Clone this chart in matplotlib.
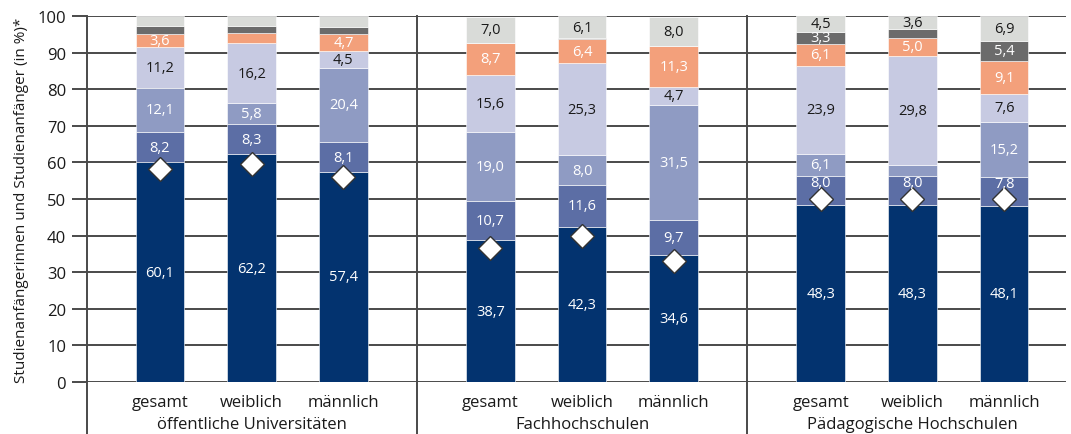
import numpy as np
import matplotlib
matplotlib.use("Agg")
import matplotlib.pyplot as plt
from matplotlib.lines import Line2D

plt.rcParams['font.family'] = ['Open Sans', 'DejaVu Sans']

groups = ["öffentliche Universitäten", "Fachhochschulen", "Pädagogische Hochschulen"]
subcats = ["gesamt", "weiblich", "männlich"]

# stacked shares, bottom to top, 9 bars (3 groups x gesamt/weiblich/männlich)
layer1 = [60.1, 62.2, 57.4, 38.7, 42.3, 34.6, 48.3, 48.3, 48.1]
layer2 = [8.2, 8.3, 8.1, 10.7, 11.6, 9.7, 8.0, 8.0, 7.8]
layer3 = [12.1, 5.8, 20.4, 19.0, 8.0, 31.5, 6.1, 3.0, 15.2]
layer4 = [11.2, 16.2, 4.5, 15.6, 25.3, 4.7, 23.9, 29.8, 7.6]
layer5 = [3.6, 2.8, 4.7, 8.7, 6.4, 11.3, 6.1, 5.0, 9.1]
layer6 = [2.0, 2.0, 2.0, 0.0, 0.3, 0.0, 3.3, 2.3, 5.4]
layer7 = [2.8, 2.7, 2.9, 7.0, 6.1, 8.0, 4.5, 3.6, 6.9]
# segments drawn without a value label: (layer index, bar index)
unlabelled = {(2, 7), (4, 1), (5, 0), (5, 1), (5, 2), (5, 3), (5, 4), (5, 5), (5, 7),
              (6, 0), (6, 1), (6, 2)}
# diamond markers
diamonds = [58.2, 59.6, 56.0, 36.6, 39.9, 33.1, 50.0, 50.0, 50.0]

layers = [layer1, layer2, layer3, layer4, layer5, layer6, layer7]
colors = ["#03336f", "#5c6ea5", "#8f9bc3", "#c7cae2", "#f3a07b", "#6b6b6b", "#d9dbd8"]
txtcol = ["white", "white", "white", "#1a1a1a", "white", "white", "#1a1a1a"]

gap = 1.603
xpos = np.array([g * (2 + gap) + i for g in range(3) for i in range(3)], dtype=float)
seps = [xpos[2] + (xpos[3] - xpos[2]) / 2, xpos[5] + (xpos[6] - xpos[5]) / 2]

fig = plt.figure(figsize=(10.71, 4.35), dpi=100)
ax = fig.add_axes([87 / 1071, 1 - 383 / 435, (1066 - 87) / 1071, (383 - 17) / 435])

ax.set_ylim(0, 100)
ax.set_xlim(-0.796, 9.88)
ax.set_yticks(np.arange(0, 101, 10))
ax.yaxis.grid(True, color="#4a4a4a", linewidth=1.4)
ax.set_axisbelow(True)
for s in ["top", "right", "bottom", "left"]:
    ax.spines[s].set_visible(False)
ax.tick_params(axis="y", length=11, width=1.4, color="#4a4a4a", labelsize=12,
               labelcolor="#1a1a1a", pad=4)
ax.set_xticks([])

bw = 0.53
bottom = np.zeros(len(xpos))
for li, (vals, c) in enumerate(zip(layers, colors)):
    vals = np.array(vals)
    ax.bar(xpos, vals, bw, bottom=bottom, color=c, edgecolor="white", linewidth=0.4, zorder=2)
    for bi, v in enumerate(vals):
        if v <= 0 or (li, bi) in unlabelled:
            continue
        yy = bottom[bi] + v / 2
        # PH labels of the second layer sit above the diamond
        if li == 1 and bi >= 6:
            yy += 2.3
        ax.text(xpos[bi], yy, f"{v:.1f}".replace(".", ","),
                ha="center", va="center", fontsize=10.5, color=txtcol[li], zorder=6)
    bottom += vals

ax.plot(xpos, diamonds, linestyle="none", marker="D", markersize=12,
        markerfacecolor="white", markeredgecolor="#333333", markeredgewidth=1.0, zorder=5)

# y axis line and group separators reaching into the label area
trans = ax.get_xaxis_transform()
for x in [ax.get_xlim()[0]] + seps:
    ax.add_line(Line2D([x, x], [-0.15, 1.0], transform=trans, color="#4a4a4a",
                       linewidth=1.4, clip_on=False, zorder=3))

for i, x in enumerate(xpos):
    ax.text(x, -0.055, subcats[i % 3], transform=trans, ha="center", va="center",
            fontsize=12, color="#1a1a1a")
for g in range(3):
    ax.text(xpos[3 * g + 1], -0.115, groups[g], transform=trans, ha="center", va="center",
            fontsize=12, color="#1a1a1a")

ax.set_ylabel("Studienanfängerinnen und Studienanfänger (in %)*", fontsize=11,
              color="#1a1a1a", labelpad=6)

fig.savefig("out.png", dpi=100)
